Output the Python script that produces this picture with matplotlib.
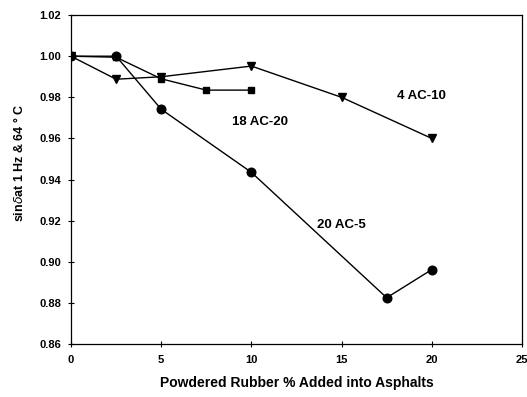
import matplotlib
matplotlib.use('Agg')
import matplotlib.pyplot as plt

# rubber content (%) and sin(delta) at 1 Hz, 64 C
x_ac10 = [0, 2.5, 5, 10, 15, 20]
y_ac10 = [1.000, 0.9888, 0.9900, 0.9952, 0.9800, 0.9600]

x_ac20 = [0, 2.5, 5, 7.5, 10]
y_ac20 = [1.000, 0.9995, 0.9890, 0.9835, 0.9835]

x_ac5 = [0, 2.5, 5, 10, 17.5, 20]
y_ac5 = [1.000, 1.000, 0.9742, 0.9435, 0.8825, 0.8962]

xticks = [0, 5, 10, 15, 20, 25]
yticks = [0.86, 0.88, 0.90, 0.92, 0.94, 0.96, 0.98, 1.00, 1.02]

plt.rcParams['font.family'] = ['Liberation Sans', 'DejaVu Sans']

fig = plt.figure(figsize=(5.27, 3.97), dpi=100)
ax = fig.add_axes([0.1347, 0.1335, 0.8558, 0.8285])

ax.plot(x_ac10, y_ac10, color='black', lw=1.0, marker='v', ms=6)
ax.plot(x_ac20, y_ac20, color='black', lw=1.0, marker='s', ms=5)
ax.plot(x_ac5, y_ac5, color='black', lw=1.0, marker='o', ms=6.2)

ax.text(19.4, 0.9805, '4 AC-10', ha='center', va='center', fontsize=9.5, fontweight='bold')
ax.text(10.5, 0.968, '18 AC-20', ha='center', va='center', fontsize=9.5, fontweight='bold')
ax.text(15.0, 0.9178, '20 AC-5', ha='center', va='center', fontsize=9.5, fontweight='bold')

ax.set_xlim(0, 25)
ax.set_ylim(0.86, 1.02)
ax.set_xticks(xticks)
ax.set_yticks(yticks)
ax.set_yticklabels([f'{v:.2f}' for v in yticks])
ax.tick_params(axis='both', direction='inout', length=4, width=0.8, labelsize=8)
for lab in ax.get_xticklabels() + ax.get_yticklabels():
    lab.set_fontweight('bold')
ax.tick_params(axis='x', pad=6)
ax.tick_params(axis='y', pad=5)

for sp in ax.spines.values():
    sp.set_linewidth(0.9)

ax.set_xlabel('Powdered Rubber % Added into Asphalts', fontsize=10, fontweight='bold', labelpad=8)
ax.set_ylabel('sin$\\delta$at 1 Hz & 64 ° C', fontsize=9, fontweight='bold')
ax.yaxis.set_label_coords(-0.10, 0.55)

fig.savefig('out.png', dpi=100)
